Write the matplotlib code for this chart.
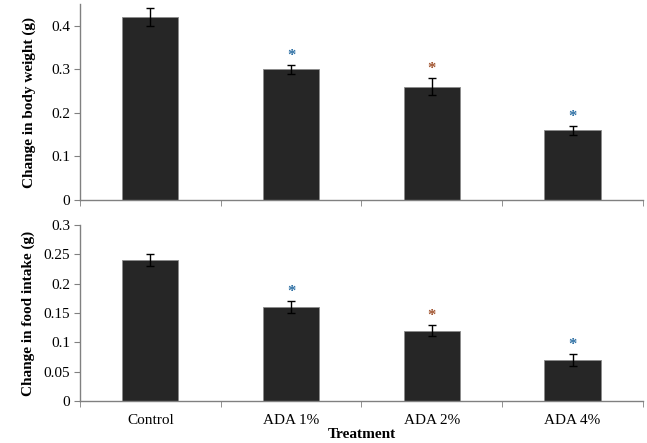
import matplotlib.pyplot as plt
import numpy as np
from matplotlib.ticker import FixedLocator, FuncFormatter

# data
treatments = ['Control', 'ADA 1%', 'ADA 2%', 'ADA 4%']
body_weight = [0.42, 0.30, 0.26, 0.16]
body_weight_err = [0.02, 0.01, 0.02, 0.01]
food_intake = [0.24, 0.16, 0.12, 0.07]
food_intake_err = [0.01, 0.01, 0.01, 0.01]
sig_colors = [None, '#2b6ea3', '#a0522d', '#2b6ea3']

plt.rcParams['font.family'] = ['Liberation Serif', 'DejaVu Serif']

fig = plt.figure(figsize=(6.47, 4.43), dpi=100)
ax1 = fig.add_axes([0.1236, 0.5485, 0.8702, 0.4425])
ax2 = fig.add_axes([0.1236, 0.0948, 0.8702, 0.3972])

x = np.arange(len(treatments))


def fmt(v, pos):
    if abs(v) < 1e-9:
        return '0'
    return ('%.2f' % v).rstrip('0')


def draw(ax, vals, errs, ylim, yticks, ylabel, off, lpad):
    ax.bar(x, vals, width=0.4, color='#262626', edgecolor='#8c8c8c', linewidth=0.6, zorder=2)
    ax.errorbar(x, vals, yerr=errs, fmt='none', ecolor='black', elinewidth=1.0,
                capsize=3, capthick=1.0, zorder=3)
    for i, c in enumerate(sig_colors):
        if c is None:
            continue
        ax.text(x[i], vals[i] + errs[i] + off, '*', color=c, ha='center', va='bottom',
                fontsize=12, fontweight='bold')
    ax.set_xlim(-0.5, len(treatments) - 0.5)
    ax.set_ylim(*ylim)
    ax.set_yticks(yticks)
    ax.yaxis.set_major_formatter(FuncFormatter(fmt))
    ax.set_ylabel(ylabel, fontsize=11, fontweight='bold', labelpad=lpad)
    for s in ['top', 'right']:
        ax.spines[s].set_visible(False)
    for s in ['left', 'bottom']:
        ax.spines[s].set_color('#808080')
        ax.spines[s].set_linewidth(1.0)
    ax.tick_params(axis='y', direction='out', length=4, color='#808080', labelsize=11, pad=3)
    ax.set_xticks(x)
    ax.xaxis.set_minor_locator(FixedLocator(np.arange(-0.5, len(treatments), 1.0)))
    ax.tick_params(axis='x', which='major', length=0, labelsize=11, pad=9)
    ax.tick_params(axis='x', which='minor', direction='out', length=4, color='#808080')


draw(ax1, body_weight, body_weight_err, (0, 0.45), [0, 0.1, 0.2, 0.3, 0.4],
     'Change in body weight (g)', 0.002, 11)
ax1.set_xticklabels([])
draw(ax2, food_intake, food_intake_err, (0, 0.3), [0, 0.05, 0.1, 0.15, 0.2, 0.25, 0.3],
     'Change in food intake (g)', 0.0015, 6)
ax2.set_xticklabels(treatments)
ax2.set_xlabel('Treatment', fontsize=11, fontweight='bold', labelpad=1)

fig.savefig('out.png', dpi=100)
